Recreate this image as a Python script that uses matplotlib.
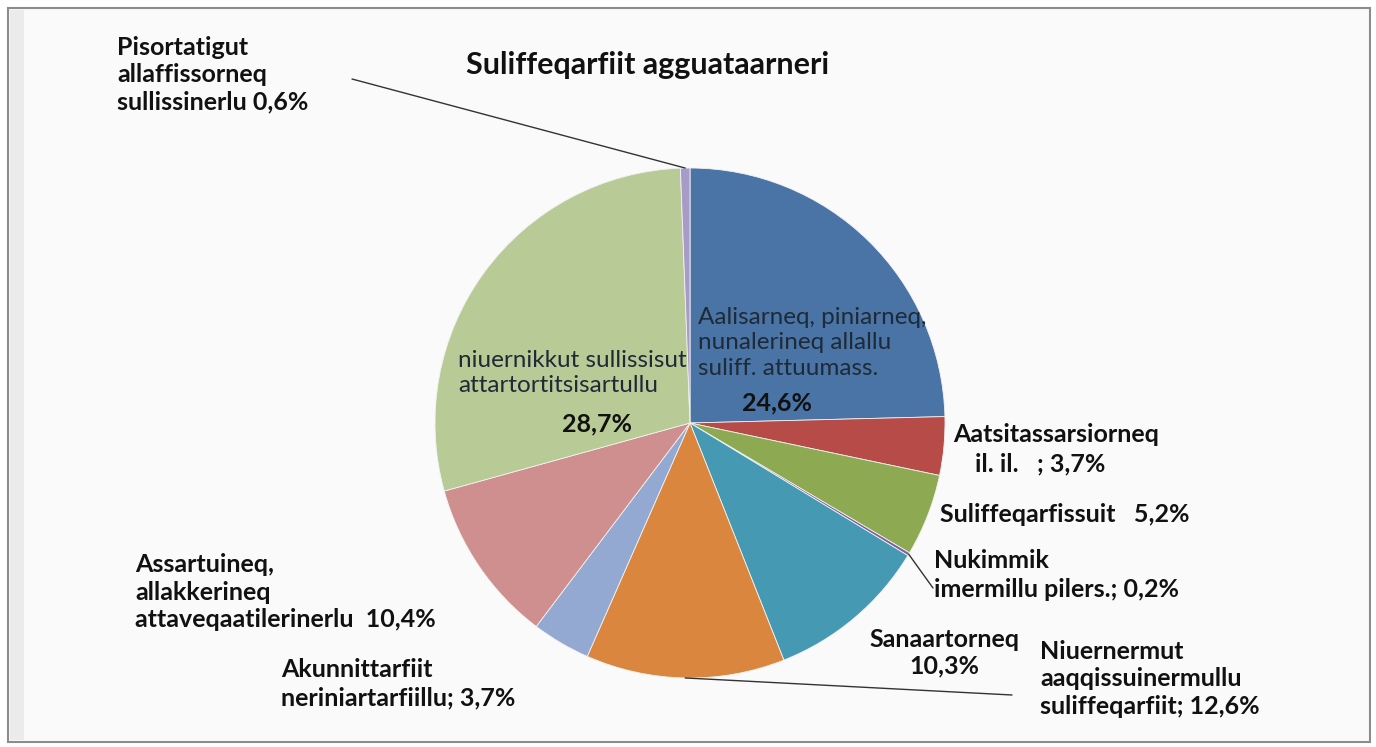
import numpy as np
import matplotlib.pyplot as plt
from matplotlib.patches import Rectangle

plt.rcParams['font.family'] = ['Lato', 'DejaVu Sans']

# slice data, clockwise from 12 o'clock
sectors = ['Aalisarneq', 'Aatsitassarsiorneq', 'Suliffeqarfissuit', 'Nukimmik',
           'Sanaartorneq', 'Niuernermut', 'Akunnittarfiit', 'Assartuineq',
           'niuernikkut', 'Pisortatigut']
shares = [24.6, 3.7, 5.2, 0.2, 10.3, 12.6, 3.7, 10.4, 28.7, 0.6]
colors = ['#4A74A6', '#B64B48', '#8DAA52', '#7D62A0', '#4699B2',
          '#DA863E', '#94A9D2', '#CF8F8E', '#B8CB96', '#A99BC8']

W, H = 1376, 747
fig = plt.figure(figsize=(W / 100, H / 100), dpi=100)
fig.patch.set_facecolor('white')


def px(x, y):
    return x / W, 1 - y / H


# frame
fig.patches.append(Rectangle((8 / W, 1 - 742 / H), 1362 / W, 734 / H,
                             transform=fig.transFigure, facecolor='#FAFAFA',
                             edgecolor='#8C8C8C', linewidth=1.5, zorder=-2))
fig.patches.append(Rectangle((10 / W, 1 - 740 / H), 14 / W, 730 / H,
                             transform=fig.transFigure, facecolor='#EBEBEB',
                             edgecolor='none', zorder=-1))

cx, cy, r = 690, 423, 255
ax = fig.add_axes([(cx - r) / W, (H - cy - r) / H, 2 * r / W, 2 * r / H])
ax.patch.set_visible(False)
wedges, _ = ax.pie(shares, colors=colors, startangle=90, counterclock=False,
                   wedgeprops=dict(edgecolor='#F2F2F2', linewidth=0.6))
ax.set_xlim(-1, 1)
ax.set_ylim(-1, 1)
ax.set_aspect('equal')
ax.axis('off')


def leader(i, end, rad=1.0):
    w = wedges[i]
    a = np.deg2rad((w.theta1 + w.theta2) / 2)
    ax.annotate('', xy=(rad * np.cos(a), rad * np.sin(a)), xycoords='data',
                xytext=(end[0], H - end[1]), textcoords='figure pixels',
                arrowprops=dict(arrowstyle='-', color='#333333', lw=1.0,
                                shrinkA=0, shrinkB=0), annotation_clip=False)


leader(9, (352, 79))
leader(3, (933, 588))
leader(5, (1012, 695))

fs = 18
txt = dict(fontsize=fs, fontweight='bold', color='#111111', va='center')
inner = dict(fontsize=17.5, color='#1E2A36', va='center', linespacing=1.28)

fig.text(*px(648, 65), 'Suliffeqarfiit agguataarneri', fontsize=22,
         fontweight='bold', color='#111111', ha='center', va='center')

# inside labels
fig.text(*px(698, 343), 'Aalisarneq, piniarneq,\nnunalerineq allallu\nsuliff. attuumass.',
         **inner)
fig.text(*px(777, 403), '24,6%', ha='center', **txt)
fig.text(*px(458, 373), 'niuernikkut sullissisut\nattartortitsisartullu', **inner)
fig.text(*px(597, 424), '28,7%', ha='center', **txt)

# outside labels
fig.text(*px(117, 75), 'Pisortatigut\nallaffissorneq\nsullissinerlu 0,6%',
         linespacing=1.22, **txt)
fig.text(*px(953, 434), 'Aatsitassarsiorneq', **txt)
fig.text(*px(975, 464), 'il. il.   ; 3,7%', **txt)
fig.text(*px(940, 514), 'Suliffeqarfissuit   5,2%', **txt)
fig.text(*px(934, 575), 'Nukimmik\nimermillu pilers.; 0,2%', linespacing=1.35, **txt)
fig.text(*px(944, 653), 'Sanaartorneq\n10,3%', ha='center', linespacing=1.2, **txt)
fig.text(*px(1040, 679), 'Niuernermut\naaqqissuinermullu\nsuliffeqarfiit; 12,6%',
         linespacing=1.22, **txt)
fig.text(*px(135, 592), 'Assartuineq,\nallakkerineq\nattaveqaatilerinerlu  10,4%',
         linespacing=1.22, **txt)
fig.text(*px(281, 684), 'Akunnittarfiit\nneriniartarfiillu; 3,7%',
         linespacing=1.3, **txt)

fig.savefig('out.png', dpi=100)
